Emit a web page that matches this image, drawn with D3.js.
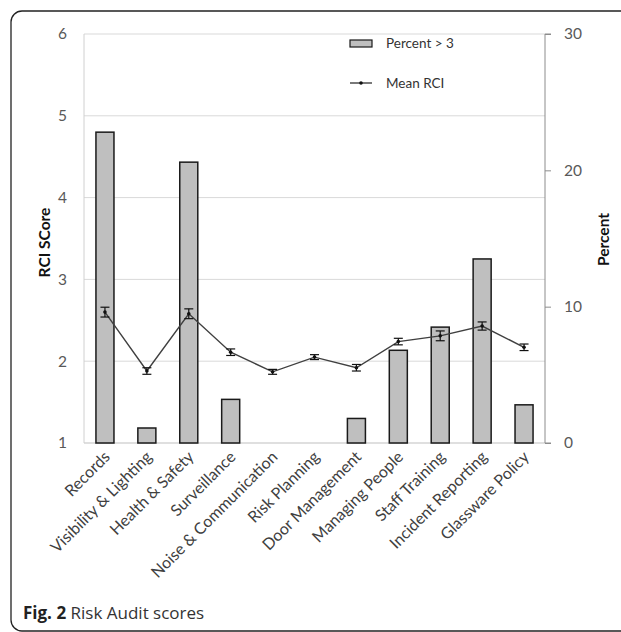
<!DOCTYPE html>
<html>
<head>
<meta charset="utf-8">
<script src="https://cdn.jsdelivr.net/npm/d3@7"></script>
<style>
  html, body { margin: 0; padding: 0; background: #fff; }
  svg { display: block; }
</style>
</head>
<body>
<svg id="chart" width="621" height="632"></svg>
<script>
// Risk audit domains
const categories = [
  "Records", "Visibility & Lighting", "Health & Safety", "Surveillance",
  "Noise & Communication", "Risk Planning", "Door Management",
  "Managing People", "Staff Training", "Incident Reporting", "Glassware Policy"
];
// Percent of venues scoring > 3 (right axis)
const percentAbove3 = [22.8, 1.1, 20.6, 3.2, 0, 0, 1.8, 6.8, 8.5, 13.5, 2.8];
// Mean RCI score (left axis) and its error margin
const meanRCI = [2.60, 1.88, 2.58, 2.11, 1.87, 2.05, 1.92, 2.24, 2.31, 2.43, 2.17];
const rciError = [0.06, 0.04, 0.06, 0.04, 0.03, 0.03, 0.04, 0.04, 0.06, 0.05, 0.04];
// Axis ticks
const leftTicks = [1, 2, 3, 4, 5, 6];
const rightTicks = [0, 10, 20, 30];

const svg = d3.select("#chart");
const chartFont = "Lato, 'Open Sans', sans-serif";

// Figure frame with rounded corners
svg.append("rect")
  .attr("x", 11).attr("y", 11)
  .attr("width", 640).attr("height", 620)
  .attr("rx", 11).attr("ry", 11)
  .attr("fill", "none").attr("stroke", "#222").attr("stroke-width", 1.3);

const plot = { left: 84, right: 545, top: 34, bottom: 443 };

const x = d3.scaleBand().domain(categories).range([plot.left, plot.right]).padding(0);
const yL = d3.scaleLinear().domain([1, 6]).range([plot.bottom, plot.top]);
const yR = d3.scaleLinear().domain([0, 30]).range([plot.bottom, plot.top]);
const barW = x.bandwidth() * 0.43;
const cx = d => x(d) + x.bandwidth() / 2;

// Gridlines from the left axis
svg.append("g")
  .selectAll("line")
  .data(leftTicks)
  .join("line")
  .attr("x1", plot.left).attr("x2", plot.right)
  .attr("y1", d => yL(d)).attr("y2", d => yL(d))
  .attr("stroke", d => d === 1 ? "#bfbfbf" : "#d9d9d9")
  .attr("stroke-width", 1);

// Plot-area left border
svg.append("line")
  .attr("x1", plot.left).attr("x2", plot.left)
  .attr("y1", plot.top).attr("y2", plot.bottom)
  .attr("stroke", "#d0d0d0");

// Left axis (labels only)
const leftAxis = d3.axisLeft(yL).tickValues(leftTicks).tickSize(0).tickPadding(17).tickFormat(d3.format("d"));
const gL = svg.append("g").attr("transform", `translate(${plot.left},0)`).call(leftAxis);
gL.select(".domain").remove();
gL.selectAll("text").attr("font-family", chartFont).attr("font-size", 15.5).attr("fill", "#595959");

// Right axis
const rightAxis = d3.axisRight(yR).tickValues(rightTicks).tickSize(6).tickPadding(13).tickFormat(d3.format("d"));
const gR = svg.append("g").attr("transform", `translate(${plot.right},0)`).call(rightAxis);
gR.select(".domain").attr("stroke", "#8c8c8c").attr("d", `M6,${plot.top}H0V${plot.bottom}H6`);
gR.selectAll(".tick line").attr("stroke", "#8c8c8c");
gR.selectAll("text").attr("font-family", chartFont).attr("font-size", 15.5).attr("fill", "#595959");

// Bars: percent > 3
svg.append("g")
  .selectAll("rect")
  .data(categories)
  .join("rect")
  .attr("x", d => cx(d) - barW / 2)
  .attr("width", barW)
  .attr("y", (d, i) => yR(percentAbove3[i]))
  .attr("height", (d, i) => yR(0) - yR(percentAbove3[i]))
  .attr("fill", "#bfbfbf")
  .attr("stroke", "#1a1a1a")
  .attr("stroke-width", 1.5)
  .style("display", (d, i) => percentAbove3[i] > 0 ? null : "none");

// Mean RCI line
const line = d3.line().x(d => cx(d)).y((d, i) => yL(meanRCI[i]));
svg.append("path")
  .datum(categories)
  .attr("d", line)
  .attr("fill", "none")
  .attr("stroke", "#404040")
  .attr("stroke-width", 1.4);

// Error bars
const err = svg.append("g").attr("stroke", "#111").attr("stroke-width", 1.2);
categories.forEach((c, i) => {
  const px = cx(c);
  const y1 = yL(meanRCI[i] + rciError[i]);
  const y2 = yL(meanRCI[i] - rciError[i]);
  err.append("line").attr("x1", px).attr("x2", px).attr("y1", y1).attr("y2", y2);
  err.append("line").attr("x1", px - 4.5).attr("x2", px + 4.5).attr("y1", y1).attr("y2", y1);
  err.append("line").attr("x1", px - 4.5).attr("x2", px + 4.5).attr("y1", y2).attr("y2", y2);
});

// Point markers
svg.append("g")
  .selectAll("circle")
  .data(categories)
  .join("circle")
  .attr("cx", d => cx(d))
  .attr("cy", (d, i) => yL(meanRCI[i]))
  .attr("r", 1.8)
  .attr("fill", "#111");

// Category labels
svg.append("g")
  .selectAll("text")
  .data(categories)
  .join("text")
  .attr("transform", d => `translate(${cx(d) + 2},${plot.bottom + 11}) rotate(-45)`)
  .attr("text-anchor", "end")
  .attr("dy", "0.35em")
  .attr("font-family", chartFont)
  .attr("font-size", 16)
  .attr("fill", "#404040")
  .text(d => d);

// Axis titles
svg.append("text")
  .attr("transform", `translate(50,${(plot.top + plot.bottom) / 2 + 4}) rotate(-90)`)
  .attr("text-anchor", "middle")
  .attr("font-family", chartFont)
  .attr("font-weight", "bold")
  .attr("font-size", 15.5)
  .attr("fill", "#111")
  .text("RCI SCore");

svg.append("text")
  .attr("transform", `translate(609,${(plot.top + plot.bottom) / 2 + 1}) rotate(-90)`)
  .attr("text-anchor", "middle")
  .attr("font-family", chartFont)
  .attr("font-weight", "bold")
  .attr("font-size", 15.5)
  .attr("fill", "#111")
  .text("Percent");

// Legend
const lg = svg.append("g").attr("font-family", chartFont).attr("font-size", 13.5).attr("fill", "#333");
lg.append("rect").attr("x", 350).attr("y", 40).attr("width", 22).attr("height", 7)
  .attr("fill", "#bfbfbf").attr("stroke", "#1a1a1a").attr("stroke-width", 1.2);
lg.append("text").attr("x", 386).attr("y", 48).text("Percent > 3");
lg.append("line").attr("x1", 350).attr("x2", 372).attr("y1", 83).attr("y2", 83)
  .attr("stroke", "#404040").attr("stroke-width", 1.4);
lg.append("circle").attr("cx", 361).attr("cy", 83).attr("r", 1.8).attr("fill", "#111");
lg.append("text").attr("x", 386).attr("y", 88).text("Mean RCI");

// Caption
const cap = svg.append("text").attr("x", 23).attr("y", 619)
  .attr("font-family", "'Open Sans', sans-serif").attr("font-size", 17).attr("fill", "#333");
cap.append("tspan").attr("font-weight", "bold").attr("fill", "#222").text("Fig. 2");
cap.append("tspan").text(" Risk Audit scores");
</script>
</body>
</html>
